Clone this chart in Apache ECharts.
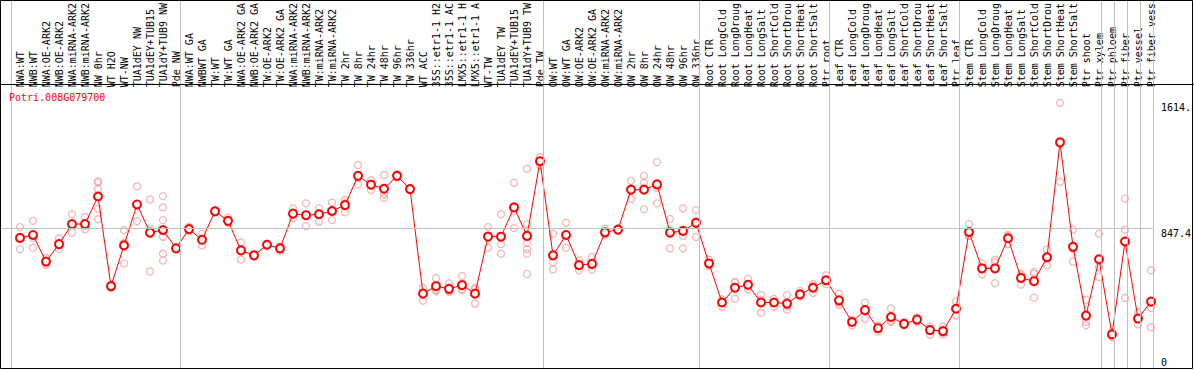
<!DOCTYPE html>
<html>
<head>
<meta charset="utf-8">
<script src="https://cdn.jsdelivr.net/npm/echarts@6/dist/echarts.min.js"></script>
<style>
html,body{margin:0;padding:0;background:#fff;}
#chart{width:1194px;height:370px;}
</style>
</head>
<body>
<div id="chart"></div>
<script>
const geneName = 'Potri.008G079700';

const categories = [
'NWA:WT','NWB:WT','NWA:OE-ARK2','NWB:OE-ARK2','NWA:miRNA-ARK2','NWB:miRNA-ARK2','NW 0hr','WT H2O','WT-NW','TUA1dEY NW','TUA1dEY+TUB15','TUA1dY+TUB9 NW','Pde NW',
'NWA:WT GA','NWBWT GA','TW:WT','TW:WT GA','NWA:OE-ARK2 GA','NWB:OE-ARK2 GA','TW:OE-ARK2','TW:OE-ARK2 GA','NWA:miRNA-ARK2','NWB:miRNA-ARK2','TW:miRNA-ARK2','TW:miRNA-ARK2','TW 2hr','TW 8hr','TW 24hr','TW 48hr','TW 96hr','TW 336hr','WT ACC','35S::etr1-1 H2','35S::etr1-1 AC','LMX5::etr1-1 H','LMX5::etr1-1 A','WT-TW','TUA1dEY TW','TUA1dEY+TUB15','TUA1dY+TUB9 TW','Pde TW',
'OW:WT','OW:WT GA','OW:OE-ARK2','OW:OE-ARK2 GA','OW:miRNA-ARK2','OW:miRNA-ARK2','OW 2hr','OW 8hr','OW 24hr','OW 48hr','OW 96hr','OW 336hr',
'Root CTR','Root LongCold','Root LongDroug','Root LongHeat','Root LongSalt','Root ShortCold','Root ShortDrou','Root ShortHeat','Root ShortSalt','Ptr root',
'Leaf CTR','Leaf LongCold','Leaf LongDroug','Leaf LongHeat','Leaf LongSalt','Leaf ShortCold','Leaf ShortDrou','Leaf ShortHeat','Leaf ShortSalt','Ptr leaf',
'Stem CTR','Stem LongCold','Stem LongDroug','Stem LongHeat','Stem LongSalt','Stem ShortCold','Stem ShortDrou','Stem ShortHeat','Stem ShortSalt',
'Ptr shoot','Ptr xylem','Ptr phloem','Ptr fiber','Ptr vessel','Ptr fiber vess'
];

// mean expression per sample (red line)
const meanValues = [
801,820,649,761,890,890,1067,491,753,1016,835,852,734,
858,789,972,911,721,689,757,734,957,947,953,974,1012,1200,1143,1117,1200,1115,443,491,474,498,443,809,809,997,814,1294,
689,820,626,634,837,854,1111,1111,1145,835,846,898,
637,386,481,500,386,386,379,438,481,529,
400,261,337,221,293,249,276,209,202,346,
839,605,605,799,544,523,677,1415,744,302,664,181,778,283,392
];

// individual replicates per sample (pink circles)
const replicateValues = [
[871,801,729],[911,801,738],[672,649,628],[799,755,729],[953,882,835],[936,878,856],[1165,1157,1115,988,921],[501,491,480],[852,770,637],[1132,1007,909],[1048,856,586],[1069,997,915,808,700,656],[738,734,730],
[873,858,843],[828,786,753],[978,972,966],[931,904,898],[772,729,662],[695,689,683],[765,757,749],[745,740,717],[991,952,928],[1023,941,877],[993,960,906],[1029,978,915],[1045,1025,966],[1269,1188,1143],[1172,1148,1109],[1206,1123,1081,1058],[1210,1200,1190],[1120,1115,1110],[481,450,398],[544,469,460],[510,457,455],[556,472,466],[481,469,379],[871,818,738],[953,761,700],[1155,972,864],[1246,890,767,729,700,569],[1320,1295,1267],
[828,645,599],[898,824,738],[656,628,594],[679,624,599],[860,827,824],[860,854,848],[1168,1113,1052],[1200,1155,985],[1288,1124,1023],[923,848,734],[991,813,734],[980,907,807],
[660,630,621],[407,391,360],[519,513,411],[539,489,472],[434,403,321],[409,387,362],[434,363,340],[460,430,424],[504,492,447],[561,522,504],
[443,386,371],[275,270,238],[386,345,280],[238,225,200],[348,270,261],[259,249,239],[291,276,261],[232,216,179],[232,193,181],[392,344,302],
[890,814,813],[637,611,567],[660,645,510],[820,814,763],[571,560,501],[582,570,417],[727,680,624],[1668,1415,1162],[854,729,649],[403,262,240],[828,613,550],[198,181,164],[1054,854,415],[321,283,245],[594,350,226]
];

// group separators (category index boundaries)
const groupBreaks = [0,13,41,53,63,73,84,85,86,87,88];

// y axis tick values and labels
const yTickValues = [0, 847.4, 1614];
const yTickLabels = ['0', '847.4', '1614.'];
const midLine = 847.4;

// ---- layout ----
const PLOT_H = 369;
const ZERO_Y = 362.5;
const PX_PER_UNIT = 134 / 847.4;
const yMax = ZERO_Y / PX_PER_UNIT;
const yMin = -(PLOT_H - ZERO_Y) / PX_PER_UNIT;
const BAND = 13;
const SEP_LEFT = 1, SEP_WIDTH = 1155;
const sepMin = -10.5 / BAND;
const sepMax = sepMin + SEP_WIDTH / BAND;
const FONT = 'DejaVu Sans Mono';

const scatterData = [];
replicateValues.forEach((arr, i) => arr.forEach(v => scatterData.push([i, v])));

const chart = echarts.init(document.getElementById('chart'), null, {renderer: 'svg'});
chart.setOption({
  animation: false,
  backgroundColor: '#fff',
  title: {
    text: geneName, left: 9, top: 92, padding: 0,
    textStyle: {color: '#ff0000', fontFamily: FONT, fontSize: 10, fontWeight: 'normal'}
  },
  grid: [
    {left: SEP_LEFT, top: 0, width: SEP_WIDTH, height: PLOT_H, containLabel: false},
    {left: 13.5, top: 0, width: categories.length * BAND, height: PLOT_H, containLabel: false}
  ],
  xAxis: [
    {type: 'value', gridIndex: 0, min: sepMin, max: sepMax, show: false},
    {
      type: 'category', gridIndex: 1, position: 'top', offset: -84.5, data: categories,
      boundaryGap: true,
      axisLine: {show: false}, axisTick: {show: false}, splitLine: {show: false},
      axisLabel: {interval: 0, rotate: 90, margin: 3, hideOverlap: false,
        fontFamily: FONT, fontSize: 10, color: '#000'}
    }
  ],
  yAxis: [
    {
      type: 'value', gridIndex: 0, min: yMin, max: yMax, position: 'right',
      axisLine: {show: false}, axisTick: {show: false}, splitLine: {show: false},
      axisLabel: {
        customValues: yTickValues, margin: 7, fontFamily: FONT, fontSize: 10, color: '#000',
        formatter: function (v) {
          const idx = yTickValues.findIndex(t => Math.abs(t - v) < 1e-6);
          const s = idx >= 0 ? yTickLabels[idx] : '';
          return v === midLine ? '{m|' + s + '}' : s;
        },
        rich: {m: {fontFamily: FONT, fontSize: 10, color: '#000', padding: [10, 0, 0, 0]}}
      }
    },
    {type: 'value', gridIndex: 1, min: yMin, max: yMax, show: false}
  ],
  graphic: [
    {type: 'rect', z: 100, silent: true, shape: {x: 0.5, y: 0.5, width: 1192, height: 368},
      style: {fill: 'none', stroke: '#000', lineWidth: 1}},
    {type: 'line', z: 100, silent: true, shape: {x1: 0, y1: 84.5, x2: 1194, y2: 84.5},
      style: {stroke: '#000', lineWidth: 1}}
  ],
  series: [
    {
      type: 'line', xAxisIndex: 0, yAxisIndex: 0, data: [], silent: true, z: 1,
      markLine: {
        silent: true, symbol: 'none', animation: false,
        label: {show: false},
        lineStyle: {color: '#c0c0c0', width: 1, type: 'solid'},
        data: groupBreaks.map(k => ({xAxis: k})).concat([{yAxis: midLine}])
      }
    },
    {
      type: 'scatter', xAxisIndex: 1, yAxisIndex: 1, data: scatterData, z: 2,
      symbol: 'circle', symbolSize: 7, silent: true,
      itemStyle: {color: 'rgba(0,0,0,0)', borderColor: '#f0a0a0', borderWidth: 1.2}
    },
    {
      type: 'line', xAxisIndex: 1, yAxisIndex: 1, data: meanValues, z: 3,
      symbol: 'emptyCircle', symbolSize: 8, showAllSymbol: true, silent: true,
      itemStyle: {color: '#ff0000', borderColor: '#ff0000', borderWidth: 1.3},
      lineStyle: {color: '#ff0000', width: 1}
    }
  ]
});
</script>
</body>
</html>
